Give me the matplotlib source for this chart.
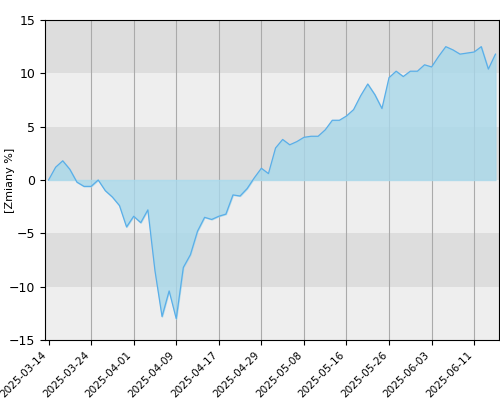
import matplotlib.pyplot as plt

values = [0, 1.2, 1.8, 1.0, -0.2, -0.6, -0.6, 0, -1.0, -1.6, -2.4, -4.4, -3.4, -4.0, -2.8,
          -8.5, -12.8, -10.4, -13.0, -8.2, -7.0, -4.8, -3.5, -3.7, -3.4, -3.2, -1.4, -1.5,
          -0.8, 0.2, 1.1, 0.6, 3.0, 3.8, 3.3, 3.6, 4.0, 4.1, 4.1, 4.7, 5.6, 5.6, 6.0, 6.6,
          7.9, 9.0, 8.0, 6.7, 9.6, 10.2, 9.7, 10.2, 10.2, 10.8, 10.6, 11.6, 12.5, 12.2,
          11.8, 11.9, 12.0, 12.5, 10.4, 11.8]
tick_labels = ["2025-03-14", "2025-03-24", "2025-04-01", "2025-04-09", "2025-04-17",
               "2025-04-29", "2025-05-08", "2025-05-16", "2025-05-26", "2025-06-03",
               "2025-06-11"]

x = list(range(len(values)))
fig, ax = plt.subplots(figsize=(5, 4), dpi=100)
fig.subplots_adjust(left=0.09, right=0.998, top=0.95, bottom=0.15)

# alternating bands
for lo in range(-15, 15, 5):
    ax.axhspan(lo, lo + 5, color='#dddddd' if (lo // 5) % 2 == 0 else '#eeeeee', zorder=0, lw=0)

ax.fill_between(x, values, 0, color='#a8d8ea', alpha=0.8, zorder=2)
ax.plot(x, values, color='#5aaee8', lw=0.9, zorder=3)

ticks = list(range(0, len(values), 6))
ax.set_xticks(ticks)
ax.set_xticklabels(tick_labels, rotation=45, ha='right', fontsize=7.5)
for t in ticks[1:]:
    ax.axvline(t, color='#aaaaaa', lw=0.8, zorder=1)
ax.set_xlim(-0.5, len(values) - 0.5)
ax.set_ylim(-15, 15)
ax.set_yticks(range(-15, 16, 5))
ax.tick_params(axis='y', labelsize=9)
ax.set_ylabel("[Zmiany %]", fontsize=8)
ax.yaxis.set_label_coords(-0.065, 0.5)
for s in ax.spines.values():
    s.set_color('black')

plt.savefig("out.png")
